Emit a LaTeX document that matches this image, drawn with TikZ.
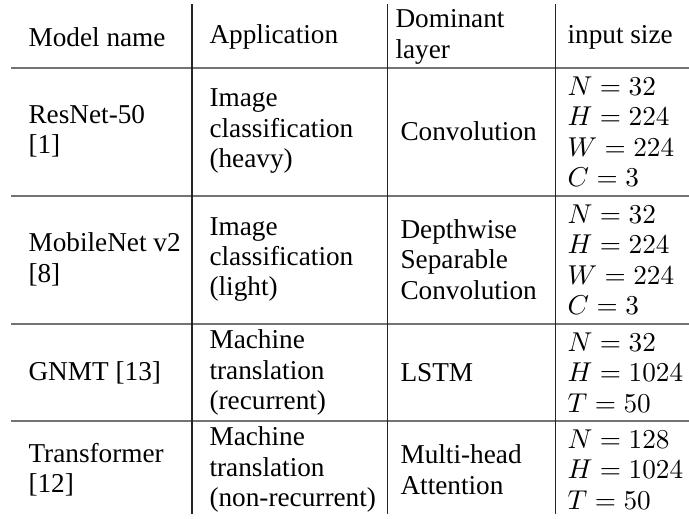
\documentclass[tikz,border=0pt]{standalone}
\usepackage[no-math]{fontspec}
\setmainfont{Liberation Serif}
\usetikzlibrary{positioning}
\tikzset{
cell/.style={anchor=west, align=left, inner sep=0pt, font=\fontsize{10}{11.19}\selectfont},
hrule/.style={draw=black!55, line width=0.66pt},
vrule/.style={draw=black!85, line width=0.37pt},
}
\begin{document}
\begin{tikzpicture}[x=0.367pt,y=-0.367pt]
\useasboundingbox (0,0) rectangle (689,518);
\foreach \y/\n in {68/1,196/2,324/3,421/4}{
\coordinate (w\n) at (11,\y);
\coordinate (e\n) at (689,\y);
\draw[hrule] (w\n)--(e\n);
}
\foreach \x/\n in {192/1,387/2,555/3}{
\coordinate (t\n) at (\x,4);
\coordinate (b\n) at (\x,514);
\draw[vrule] (t\n)--(b\n);
}
\node[cell] (name0) at (28,37) {Model name};
\node[cell] (app0) at (209,37) {Application};
\node[cell] (lay0) at (395,37) {Dominant\\layer};
\node[cell] (in0) at (567,37) {input size};
\node[cell] (name1) at (28,131.5) {ResNet-50\\{}[1]};
\node[cell] (app1) at (209,131.5) {Image\\classification\\(heavy)};
\node[cell] (lay1) at (400,131.5) {Convolution};
\node[cell] (in1) at (567,131.5) {$N=32$\\$H=224$\\$W=224$\\$C=3$};
\node[cell] (name2) at (28,259.5) {MobileNet v2\\{}[8]};
\node[cell] (app2) at (209,259.5) {Image\\classification\\(light)};
\node[cell] (lay2) at (400,259.5) {Depthwise\\Separable\\Convolution};
\node[cell] (in2) at (567,259.5) {$N=32$\\$H=224$\\$W=224$\\$C=3$};
\node[cell] (name3) at (28,372.5) {GNMT [13]};
\node[cell] (app3) at (209,372.5) {Machine\\translation\\(recurrent)};
\node[cell] (lay3) at (400,372.5) {LSTM};
\node[cell] (in3) at (567,372.5) {$N=32$\\$H=1024$\\$T=50$};
\node[cell] (name4) at (28,469.5) {Transformer\\{}[12]};
\node[cell] (app4) at (209,469.5) {Machine\\translation\\(non-recurrent)};
\node[cell] (lay4) at (400,469.5) {Multi-head\\Attention};
\node[cell] (in4) at (567,469.5) {$N=128$\\$H=1024$\\$T=50$};
\end{tikzpicture}
\end{document}
